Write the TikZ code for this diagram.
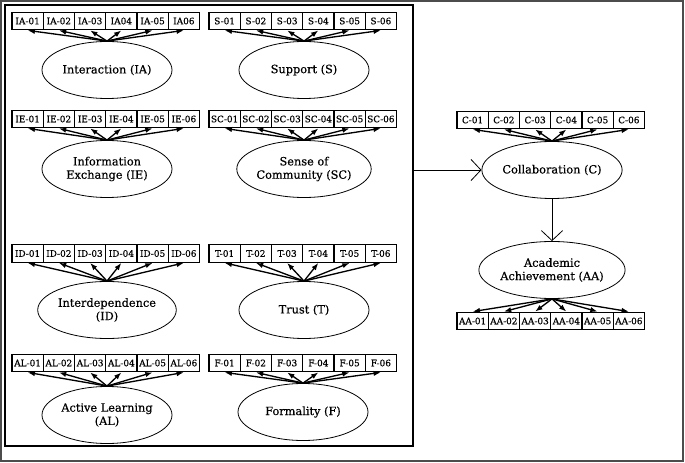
\documentclass[tikz,border=0pt]{standalone}
\usepackage{fontspec}
\setmainfont{DejaVu Serif}
\newfontfamily\lblfont[FakeBold=0.5]{DejaVu Serif}
\usetikzlibrary{arrows.meta,shapes.geometric}
\newcommand\indrow[4]{%
  \foreach \lab [count=\k] in {#4} {\node[ind] (#1\k) at ({#2+31.25*(\k-0.5)},#3) {\lab};}}
\newcommand\fanup[2]{\foreach \k in {1,...,6} {\draw[load] (#1.north) -- (#2\k.south);}}
\begin{document}
\begin{tikzpicture}[x=0.75pt,y=-0.75pt,
  ind/.style={draw, line width=0.9pt, minimum width=23.4pt, minimum height=13.2pt, inner sep=0pt, font=\lblfont\fontsize{6.7}{7}\selectfont},
  lat/.style={draw, ellipse, line width=0.6pt, minimum width=97.5pt, minimum height=42.75pt, inner sep=0pt, align=center, font=\lblfont\fontsize{8.5}{10}\selectfont},
  load/.style={-{Latex[length=5.5pt,width=4pt]}, line width=1pt},
  pathar/.style={-{Straight Barb[length=7.5pt,width=16pt]}, line width=0.6pt}]
\useasboundingbox (0,0) rectangle (685,463);
\draw[gray!60!black, line width=1.3pt] (1,1) rectangle (683,461);
\node[draw, line width=0.8pt, minimum width=306pt, minimum height=330.75pt, inner sep=0pt] (panel) at (209,225.5) {};
% left column
\indrow{ia}{12}{21}{IA-01,IA-02,IA-03,IA04,IA-05,IA06}
\node[lat] (IA) at (107,70) {Interaction (IA)};
\fanup{IA}{ia}
\indrow{ie}{12}{119}{IE-01,IE-02,IE-03,IE-04,IE-05,IE-06}
\node[lat] (IE) at (107,169) {Information\\Exchange (IE)};
\fanup{IE}{ie}
\indrow{id}{12}{253.5}{ID-01,ID-02,ID-03,ID-04,ID-05,ID-06}
\node[lat] (ID) at (107,310) {Interdependence\\(ID)};
\fanup{ID}{id}
\indrow{al}{12}{363}{AL-01,AL-02,AL-03,AL-04,AL-05,AL-06}
\node[lat] (AL) at (107,415) {Active Learning\\(AL)};
\fanup{AL}{al}
% right column
\indrow{s}{209}{21}{S-01,S-02,S-03,S-04,S-05,S-06}
\node[lat] (S) at (304,70) {Support (S)};
\fanup{S}{s}
\indrow{sc}{209}{119}{SC-01,SC-02,SC-03,SC-04,SC-05,SC-06}
\node[lat] (SC) at (304,169) {Sense of\\Community (SC)};
\fanup{SC}{sc}
\indrow{t}{209}{253.5}{T-01,T-02,T-03,T-04,T-05,T-06}
\node[lat] (T) at (304,310) {Trust (T)};
\fanup{T}{t}
\indrow{f}{209}{363}{F-01,F-02,F-03,F-04,F-05,F-06}
\node[lat] (F) at (303,412) {Formality (F)};
\fanup{F}{f}
% outcome side
\indrow{c}{457}{120}{C-01,C-02,C-03,C-04,C-05,C-06}
\node[lat] (C) at (552,170) {Collaboration (C)};
\fanup{C}{c}
\node[lat] (AA) at (552,270) {Academic\\Achievement (AA)};
\indrow{aa}{457}{321}{AA-01,AA-02,AA-03,AA-04,AA-05,AA-06}
\foreach \k in {1,...,6} {\draw[load] (AA.south) -- (aa\k.north);}
\draw[pathar] (panel.east |- C.west) -- (C.west);
\draw[pathar] (C.south) -- (AA.north);
\end{tikzpicture}
\end{document}
